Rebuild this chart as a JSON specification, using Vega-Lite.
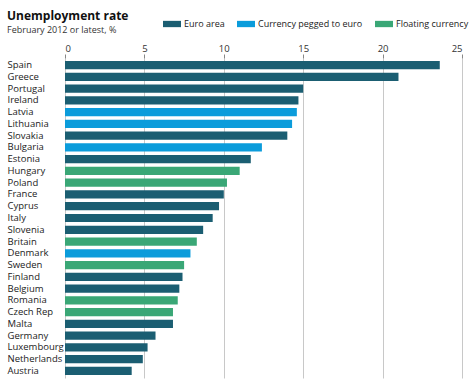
{
  "$schema": "https://vega.github.io/schema/vega-lite/v6.json",
  "autosize": {"type": "none"},
  "width": 397,
  "height": 320,
  "padding": {"left": 65, "top": 58, "right": 12, "bottom": 4},
  "background": "white",
  "title": {
    "text": "Unemployment rate",
    "subtitle": "February 2012 or latest, %",
    "anchor": "start",
    "frame": "group",
    "orient": "top",
    "dx": -58,
    "offset": -21,
    "font": "Open Sans",
    "fontSize": 12,
    "fontWeight": "bold",
    "color": "#111",
    "subtitleFont": "Open Sans",
    "subtitleFontSize": 9,
    "subtitleColor": "#333",
    "subtitlePadding": 3
  },
  "config": {
    "view": {"stroke": null},
    "font": "Open Sans"
  },
  "data": {
    "values": [
      {"country": "Spain", "rate": 23.6, "group": "Euro area"},
      {"country": "Greece", "rate": 21.0, "group": "Euro area"},
      {"country": "Portugal", "rate": 15.0, "group": "Euro area"},
      {"country": "Ireland", "rate": 14.7, "group": "Euro area"},
      {"country": "Latvia", "rate": 14.6, "group": "Currency pegged to euro"},
      {"country": "Lithuania", "rate": 14.3, "group": "Currency pegged to euro"},
      {"country": "Slovakia", "rate": 14.0, "group": "Euro area"},
      {"country": "Bulgaria", "rate": 12.4, "group": "Currency pegged to euro"},
      {"country": "Estonia", "rate": 11.7, "group": "Euro area"},
      {"country": "Hungary", "rate": 11.0, "group": "Floating currency"},
      {"country": "Poland", "rate": 10.2, "group": "Floating currency"},
      {"country": "France", "rate": 10.0, "group": "Euro area"},
      {"country": "Cyprus", "rate": 9.7, "group": "Euro area"},
      {"country": "Italy", "rate": 9.3, "group": "Euro area"},
      {"country": "Slovenia", "rate": 8.7, "group": "Euro area"},
      {"country": "Britain", "rate": 8.3, "group": "Floating currency"},
      {"country": "Denmark", "rate": 7.9, "group": "Currency pegged to euro"},
      {"country": "Sweden", "rate": 7.5, "group": "Floating currency"},
      {"country": "Finland", "rate": 7.4, "group": "Euro area"},
      {"country": "Belgium", "rate": 7.2, "group": "Euro area"},
      {"country": "Romania", "rate": 7.1, "group": "Floating currency"},
      {"country": "Czech Rep", "rate": 6.8, "group": "Floating currency"},
      {"country": "Malta", "rate": 6.8, "group": "Euro area"},
      {"country": "Germany", "rate": 5.7, "group": "Euro area"},
      {"country": "Luxembourg", "rate": 5.2, "group": "Euro area"},
      {"country": "Netherlands", "rate": 4.9, "group": "Euro area"},
      {"country": "Austria", "rate": 4.2, "group": "Euro area"}
    ]
  },
  "mark": {"type": "bar"},
  "encoding": {
    "y": {
      "field": "country",
      "type": "nominal",
      "sort": null,
      "scale": {"paddingInner": 0.3, "paddingOuter": 0.25},
      "axis": {
        "title": null,
        "domain": false,
        "ticks": false,
        "labelAlign": "left",
        "labelPadding": 58,
        "labelFont": "Open Sans",
        "labelFontSize": 9.5,
        "labelColor": "#222"
      }
    },
    "x": {
      "field": "rate",
      "type": "quantitative",
      "scale": {"domain": [0, 25], "nice": false},
      "axis": {
        "orient": "top",
        "title": null,
        "values": [0, 5, 10, 15, 20, 25],
        "domain": false,
        "grid": true,
        "gridColor": "#c8c8c8",
        "gridWidth": 1,
        "tickColor": "#888",
        "tickSize": 4,
        "labelPadding": 1,
        "labelFont": "Open Sans",
        "labelFontSize": 9.5,
        "labelColor": "#333"
      }
    },
    "color": {
      "field": "group",
      "type": "nominal",
      "scale": {
        "domain": ["Euro area", "Currency pegged to euro", "Floating currency"],
        "range": ["#1b5e72", "#0b9cdb", "#3aa776"]
      },
      "legend": {
        "title": null,
        "orient": "none",
        "direction": "horizontal",
        "legendX": 98,
        "legendY": -43,
        "symbolType": "M-1,-0.35L1,-0.35L1,0.35L-1,0.35Z",
        "symbolSize": 324,
        "symbolStrokeWidth": 0,
        "symbolOpacity": 1,
        "labelFont": "Open Sans",
        "labelFontSize": 9,
        "labelColor": "#222",
        "labelOffset": 3,
        "columnPadding": 12
      }
    }
  }
}
